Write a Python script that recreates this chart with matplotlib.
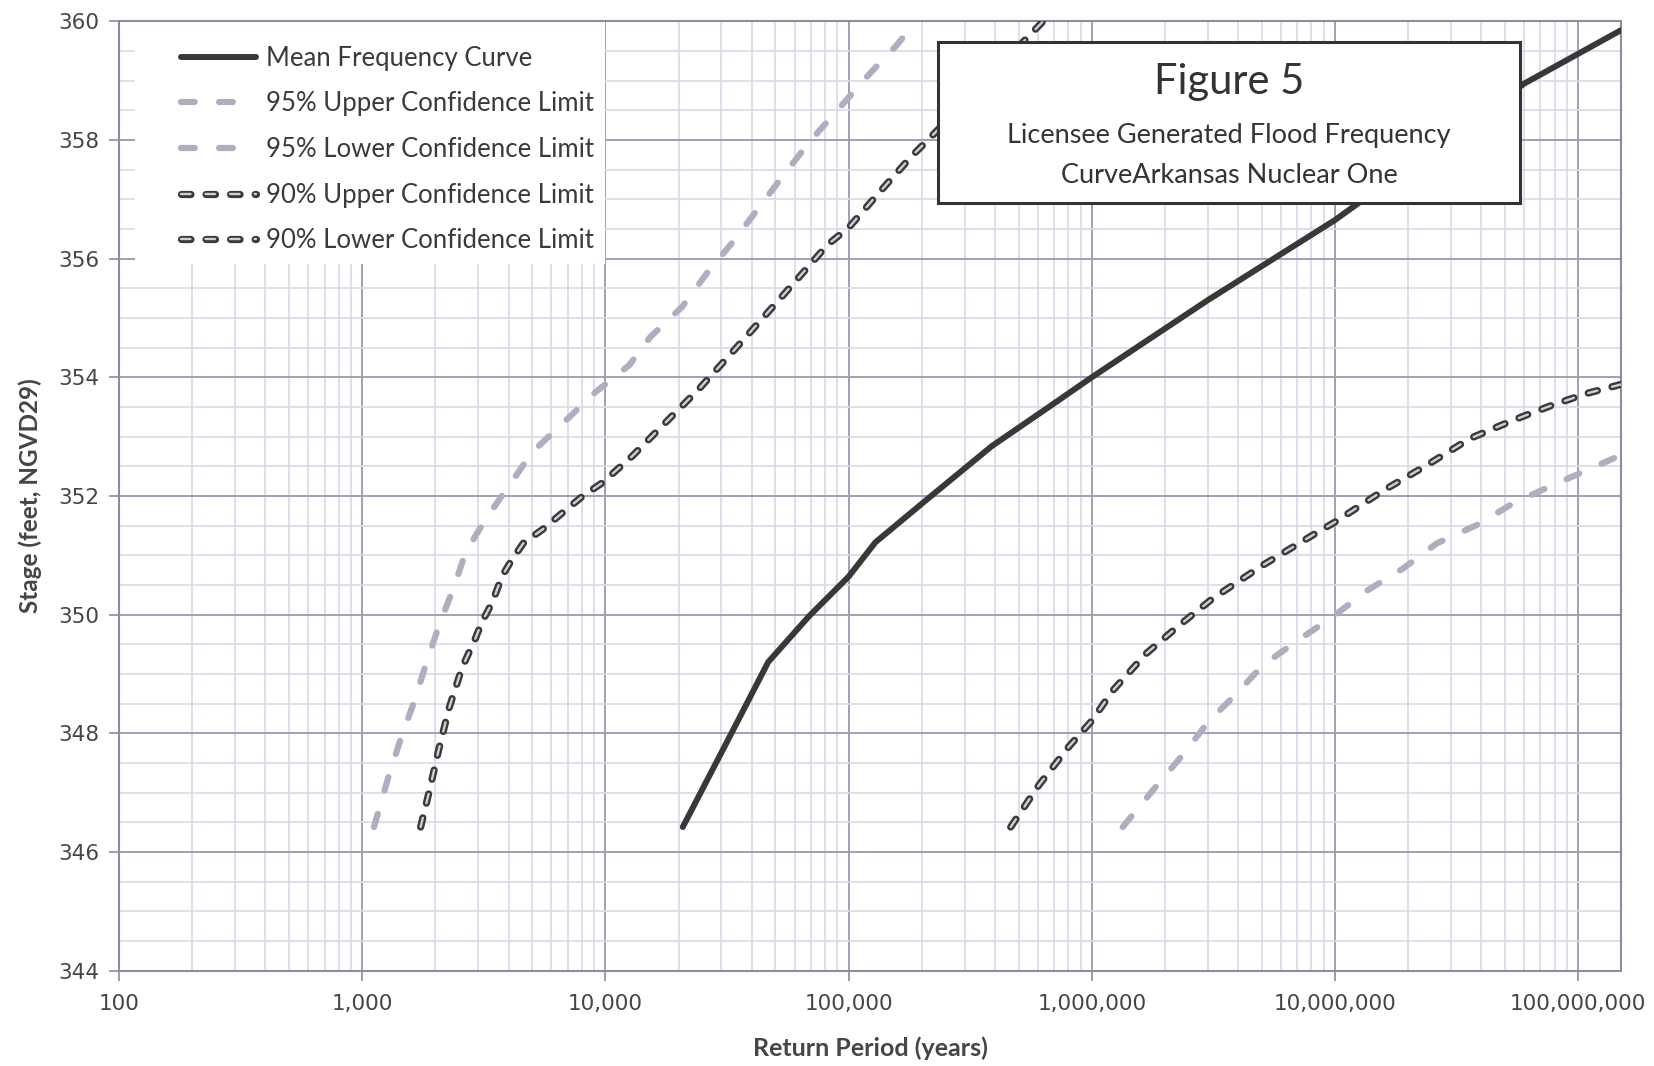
import matplotlib
matplotlib.use("Agg")
import matplotlib.pyplot as plt
import matplotlib.patheffects as pe
from matplotlib.patches import Rectangle
from matplotlib.ticker import FixedLocator, LogLocator, NullFormatter, FuncFormatter

plt.rcParams.update({"font.family": "DejaVu Sans", "figure.facecolor": "white"})

# ---- data (return period in years, stage in ft) ----
mean_rp = [20800, 32500, 46700, 69000, 100000, 129000, 207000, 388000, 661000,
           1000000, 3000000, 10000000, 60000000, 150000000]
mean_st = [346.42, 347.95, 349.2, 349.98, 350.64, 351.22, 351.92, 352.84, 353.49,
           354.0, 355.3, 356.65, 358.95, 359.85]

u95_rp = [1117, 1287, 1438, 1630, 1820, 2065, 2380, 2660, 3215, 4010, 5000, 6740,
          9100, 12500, 15300, 20700, 26200, 33700, 54500, 70100, 90400, 116000,
          157000, 190000]
u95_st = [346.42, 347.29, 347.9, 348.52, 349.14, 349.81, 350.46, 351.05, 351.61,
          352.17, 352.74, 353.24, 353.75, 354.2, 354.68, 355.19, 355.76, 356.3,
          357.43, 358.0, 358.51, 359.02, 359.59, 360.0]

l95_rp = [1340000, 1810000, 2370000, 3040000, 3920000, 5030000, 7000000, 9700000,
          13500000, 19100000, 26200000, 38300000, 54300000, 79400000, 114000000,
          150000000]
l95_st = [346.42, 347.07, 347.64, 348.21, 348.66, 349.14, 349.56, 349.95, 350.4,
          350.78, 351.2, 351.51, 351.88, 352.19, 352.47, 352.69]

u90_rp = [1738, 1880, 2065, 2270, 2570, 2920, 3110, 3420, 3760, 4130, 4610, 5490,
          6630, 8020, 9690, 12880, 18200, 24200, 33200, 53700, 82200, 100000,
          132000, 181000, 212000, 631000]
u90_st = [346.42, 347.0, 347.73, 348.41, 349.1, 349.6, 349.88, 350.2, 350.65,
          350.93, 351.21, 351.43, 351.71, 351.99, 352.22, 352.67, 353.29, 353.8,
          354.42, 355.38, 356.24, 356.52, 357.09, 357.72, 358.0, 360.0]

l90_rp = [464000, 607000, 807000, 1000000, 1220000, 1670000, 2290000, 3140000,
          5040000, 8100000, 10000000, 15800000, 23900000, 36000000, 54300000,
          79400000, 109000000, 150000000]
l90_st = [346.42, 347.13, 347.78, 348.21, 348.72, 349.34, 349.82, 350.27, 350.83,
          351.34, 351.56, 352.09, 352.52, 352.97, 353.28, 353.54, 353.73, 353.88]

x_ticks = [100, 1000, 10000, 100000, 1000000, 10000000, 100000000]
y_ticks = list(range(344, 361, 2))

DARK, LAV, LAVDARK, TXT = "#383838", "#dbd7e7", "#a39eb3", "#454545"
DASH95 = "#b3acc0"

fig = plt.figure(figsize=(16.54, 10.66), dpi=100)
ax = fig.add_axes([0.072, 0.0895, 0.908, 0.8905])
ax.set_xscale("log")
ax.set_xlim(100, 1.5e8)
ax.set_ylim(344, 360)

# grid: light minor, darker majors
ax.xaxis.set_major_locator(FixedLocator(x_ticks))
ax.xaxis.set_minor_locator(LogLocator(base=10, subs=range(2, 10), numticks=20))
ax.xaxis.set_minor_formatter(NullFormatter())
ax.yaxis.set_major_locator(FixedLocator(y_ticks))
ax.yaxis.set_minor_locator(FixedLocator([344 + 0.5 * i for i in range(33)]))
ax.grid(which="minor", color=LAV, lw=1.2, zorder=0)
ax.grid(which="major", color=LAVDARK, lw=1.4, zorder=0)
ax.set_axisbelow(True)

ax.xaxis.set_major_formatter(FuncFormatter(lambda v, p: f"{int(round(v)):,}"))
ax.tick_params(which="major", length=7, width=1.2, color="#8e8aa0",
               labelsize=15.5, labelcolor=TXT, pad=7)
ax.tick_params(axis="x", which="major", pad=10)
ax.tick_params(which="minor", length=0)
for s in ax.spines.values():
    s.set_color("#8e8aa0")
    s.set_linewidth(1.5)

# curves
ax.plot(mean_rp, mean_st, color=DARK, lw=4.3, solid_capstyle="round",
        label="Mean Frequency Curve", zorder=3)
ax.plot(u95_rp, u95_st, color=DASH95, lw=4.5, dashes=(2.2, 3.9),
        dash_capstyle="round", label="95% Upper Confidence Limit", zorder=3)
ax.plot(l95_rp, l95_st, color=DASH95, lw=4.5, dashes=(2.2, 3.9),
        dash_capstyle="round", label="95% Lower Confidence Limit", zorder=3)
outline = [pe.Stroke(linewidth=5.2, foreground="#3a3a3a"), pe.Normal()]
ax.plot(u90_rp, u90_st, color="#d0d0d0", lw=1.7, dashes=(4.0, 6.4),
        dash_capstyle="round", path_effects=outline,
        label="90% Upper Confidence Limit", zorder=3)
ax.plot(l90_rp, l90_st, color="#d0d0d0", lw=1.7, dashes=(4.0, 6.4),
        dash_capstyle="round", path_effects=outline,
        label="90% Lower Confidence Limit", zorder=3)

# white legend background + legend
ax.add_patch(Rectangle((0.0107, 0.744), 0.313, 0.256, transform=ax.transAxes,
                       facecolor="white", edgecolor="none", zorder=2.5))
leg = ax.legend(loc="upper left", bbox_to_anchor=(0.0346, 0.985), frameon=False,
                prop={"family": "Lato", "size": 18.5}, handlelength=2.9,
                handletextpad=0.4, labelspacing=0.8, borderpad=0.4,
                borderaxespad=0)
leg.set_zorder(6)
for t in leg.get_texts():
    t.set_color("#3a3a3a")

# title box
ax.add_patch(Rectangle((0.545, 0.809), 0.388, 0.169, transform=ax.transAxes,
                       facecolor="white", edgecolor="#333333", lw=2.2, zorder=5))
ax.text(0.739, 0.936, "Figure 5", transform=ax.transAxes, ha="center",
        va="center", fontsize=30, family="Lato", color="#333333", zorder=6)
ax.text(0.739, 0.880, "Licensee Generated Flood Frequency", transform=ax.transAxes,
        ha="center", va="center", fontsize=19.5, family="Lato", color="#333333",
        zorder=6)
ax.text(0.739, 0.838, "CurveArkansas Nuclear One", transform=ax.transAxes,
        ha="center", va="center", fontsize=19.5, family="Lato", color="#333333",
        zorder=6)

ax.set_xlabel("Return Period (years)", fontsize=18, family="Lato",
              fontweight="bold", color=TXT, labelpad=16)
ax.set_ylabel("Stage (feet, NGVD29)", fontsize=17.5, family="Lato",
              fontweight="bold", color=TXT, labelpad=12)

fig.savefig("out.png", dpi=100)
